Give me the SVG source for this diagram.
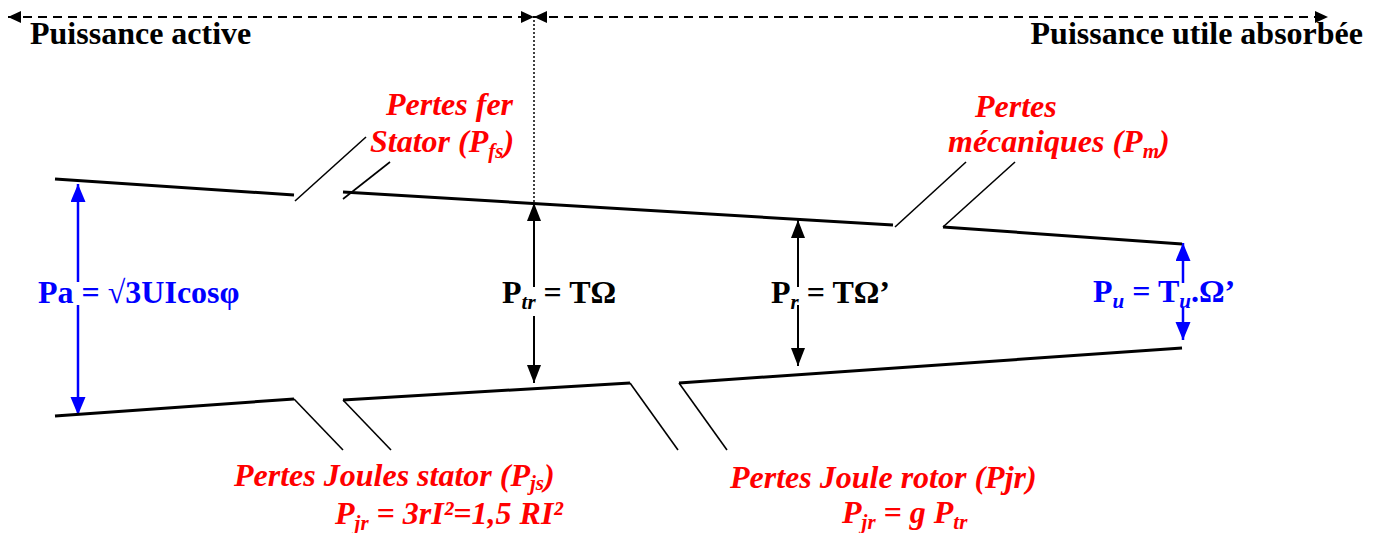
<svg xmlns="http://www.w3.org/2000/svg" width="1378" height="533" viewBox="0 0 1378 533">
<style>
.t{font-family:'Liberation Serif','DejaVu Serif',serif;font-weight:bold;font-size:32px}
.r{fill:#ff0000;font-style:italic}
.b{fill:#0000ff}
.k{fill:#000}
.sub{font-size:21px;font-style:italic}
.edge{stroke:#000;stroke-width:3;fill:none}
.stub{stroke:#000;stroke-width:1.6;fill:none}
.ak{stroke:#000;stroke-width:2;fill:none}
.ab{stroke:#0000ff;stroke-width:2.5;fill:none}
.dash{stroke:#000;stroke-width:2;stroke-dasharray:9,6;fill:none}
</style>
<defs>
<marker id="mk" markerUnits="userSpaceOnUse" markerWidth="20" markerHeight="16" refX="18" refY="7" orient="auto-start-reverse"><path d="M0,0 L18,7 L0,14 Z" fill="#000"/></marker>
<marker id="mb" markerUnits="userSpaceOnUse" markerWidth="20" markerHeight="16" refX="18" refY="7.5" orient="auto-start-reverse"><path d="M0,0 L18,7.5 L0,15 Z" fill="#0000ff"/></marker>
<marker id="md" markerUnits="userSpaceOnUse" markerWidth="14" markerHeight="12" refX="13" refY="6" orient="auto-start-reverse"><path d="M0,0 L13,6 L0,12 Z" fill="#000"/></marker>
</defs>

<g id="connectors">
<line class="dash" x1="8" y1="17" x2="534" y2="17" marker-start="url(#md)" marker-end="url(#md)"/>
<line class="dash" x1="534" y1="17" x2="1328" y2="17" marker-start="url(#md)" marker-end="url(#md)"/>
<line x1="534" y1="20" x2="534" y2="203" stroke="#000" stroke-width="1.5" stroke-dasharray="2,2"/>
<line class="ab" x1="78" y1="282" x2="78" y2="184" marker-end="url(#mb)"/>
<line class="ab" x1="78" y1="305" x2="78" y2="415" marker-end="url(#mb)"/>
<line class="ak" x1="534" y1="287" x2="534" y2="203" marker-end="url(#mk)"/>
<line class="ak" x1="534" y1="316" x2="534" y2="383" marker-end="url(#mk)"/>
<line class="ak" x1="798" y1="287" x2="798" y2="220" marker-end="url(#mk)"/>
<line class="ak" x1="798" y1="305" x2="798" y2="366" marker-end="url(#mk)"/>
<line class="ab" x1="1183" y1="283" x2="1183" y2="243" marker-end="url(#mb)"/>
<line class="ab" x1="1183" y1="308" x2="1183" y2="340" marker-end="url(#mb)"/>
</g>

<g id="flow">
<line class="edge" x1="55" y1="179" x2="294" y2="195"/>
<line class="stub" x1="295" y1="201" x2="366" y2="137"/>
<line class="stub" x1="343" y1="199" x2="390" y2="162"/>
<line class="edge" x1="343" y1="192" x2="893" y2="225"/>
<line class="stub" x1="895" y1="227" x2="966" y2="162"/>
<line class="stub" x1="943" y1="227" x2="1015" y2="162"/>
<line class="edge" x1="943" y1="227" x2="1182" y2="244"/>
<line class="edge" x1="55" y1="416" x2="294" y2="399"/>
<line class="stub" x1="294" y1="399" x2="343" y2="450"/>
<line class="stub" x1="343" y1="400" x2="391" y2="450"/>
<line class="edge" x1="343" y1="400" x2="630" y2="383"/>
<line class="stub" x1="630" y1="383" x2="678" y2="450"/>
<line class="stub" x1="679" y1="383" x2="727" y2="450"/>
<line class="edge" x1="679" y1="383" x2="1182" y2="348"/>
</g>

<g id="title-left"><text class="t k" x="30" y="44">Puissance active</text></g>
<g id="title-right"><text class="t k" x="1363" y="44" text-anchor="end">Puissance utile absorbée</text></g>

<g id="pertes-fer">
<text class="t r" x="386" y="115">Pertes fer</text>
<text class="t r" x="370" y="152">Stator (P<tspan class="sub" dy="6">fs</tspan><tspan dy="-6">)</tspan></text>
</g>
<g id="pertes-meca">
<text class="t r" x="975" y="117">Pertes</text>
<text class="t r" x="948" y="152">mécaniques (P<tspan class="sub" dy="6">m</tspan><tspan dy="-6">)</tspan></text>
</g>
<g id="pertes-joules-stator">
<text class="t r" x="234" y="486">Pertes Joules stator (P<tspan class="sub" dy="4">js</tspan><tspan dy="-4">)</tspan></text>
<text class="t r" x="335" y="524">P<tspan class="sub" dy="6">jr</tspan><tspan dy="-6"> = 3rI²=1,5 RI²</tspan></text>
</g>
<g id="pertes-joule-rotor">
<text class="t r" x="730" y="488">Pertes Joule rotor (Pjr)</text>
<text class="t r" x="842" y="523">P<tspan class="sub" dy="6">jr</tspan><tspan dy="-6"> = g P</tspan><tspan class="sub" dy="6">tr</tspan></text>
</g>

<g id="pa"><text class="t b" x="38" y="303">Pa = √3UIcosφ</text></g>
<g id="ptr"><text class="t k" x="502" y="303">P<tspan class="sub" dy="6">tr</tspan><tspan dy="-6"> = TΩ</tspan></text></g>
<g id="pr"><text class="t k" x="771" y="303">P<tspan class="sub" dy="6">r</tspan><tspan dy="-6"> = TΩ’</tspan></text></g>
<g id="pu"><text class="t b" x="1093" y="302">P<tspan class="sub" dy="6">u</tspan><tspan dy="-6"> = T</tspan><tspan class="sub" dy="6">u</tspan><tspan dy="-6">.Ω’</tspan></text></g>
</svg>
